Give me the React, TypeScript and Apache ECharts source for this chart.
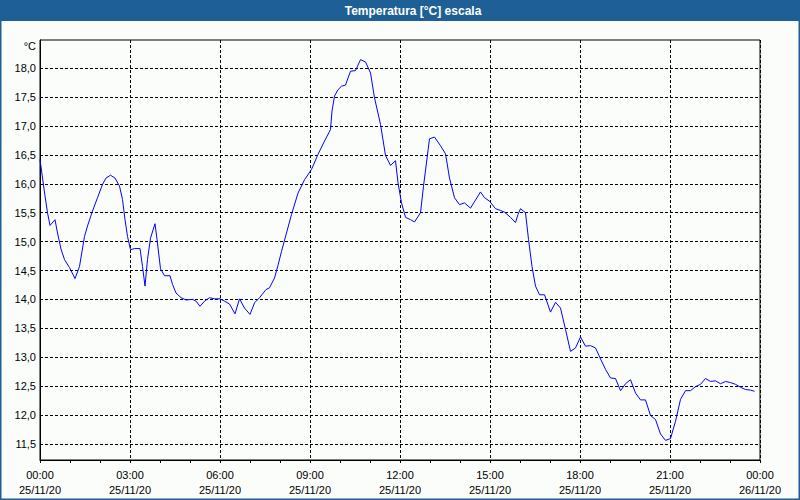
import React, { useEffect, useRef } from "react";
import * as echarts from "echarts";

// minutes since 25/11/20 00:00
const MINUTES = [
  0, 10, 15, 20, 30, 35, 42, 49, 59, 70, 79, 89, 95, 105, 115, 125, 132, 141, 150, 159,
  165, 170, 175, 181, 189, 200, 205, 210, 215, 221, 230, 234, 241, 249, 260, 265, 272, 282, 292, 305,
  312, 320, 329, 339, 349, 360, 369, 379, 390, 399, 409, 420, 429, 439, 452, 459, 469,
  476, 483, 493, 503, 516, 529, 543, 556, 569, 581, 584, 589, 596, 603, 611, 621, 631, 641, 651, 661,
  669, 681, 691, 701, 711, 716, 723, 731, 741, 749, 761, 767, 779, 789, 801, 811, 819, 829, 839, 849,
  861, 871, 881, 889, 899, 911, 921, 929, 941, 951,
  956, 961, 971, 977, 984, 991, 999, 1009, 1021, 1031, 1041, 1051, 1061, 1071, 1081, 1091, 1101, 1111, 1121, 1131,
  1141, 1151, 1161, 1171, 1181, 1191, 1201, 1211, 1221, 1231, 1241, 1251, 1261, 1271, 1281, 1291, 1301, 1311, 1321, 1331,
  1341, 1351, 1361, 1371, 1381, 1391, 1401, 1411, 1421, 1429,
];

const TEMPS = [
  16.42, 15.79, 15.5, 15.28, 15.38, 15.15, 14.87, 14.69, 14.55, 14.36, 14.57, 15.09, 15.27, 15.53, 15.76, 15.99, 16.1, 16.15, 16.1, 15.96,
  15.73, 15.38, 15.09, 14.86, 14.88, 14.88, 14.57, 14.23, 14.69, 15.06, 15.31, 15.04, 14.53, 14.41, 14.41, 14.26, 14.11, 14.03, 13.99, 14.0,
  13.97, 13.88, 13.97, 14.03, 14.01, 14.01, 13.97, 13.92, 13.75, 14.01, 13.85, 13.74, 13.94, 14.03, 14.17, 14.2, 14.37,
  14.59, 14.83, 15.15, 15.47, 15.84, 16.07, 16.25, 16.51, 16.74, 16.94, 17.26, 17.52, 17.63, 17.69, 17.71, 17.95, 17.96, 18.15, 18.11, 17.92,
  17.49, 17.03, 16.49, 16.32, 16.4, 16.02, 15.67, 15.42, 15.38, 15.34, 15.5, 15.96, 16.78, 16.81, 16.66, 16.52, 16.1, 15.76, 15.64, 15.67,
  15.58, 15.72, 15.86, 15.76, 15.7, 15.57, 15.54, 15.51, 15.42, 15.33,
  15.47, 15.57, 15.5, 15.04, 14.57, 14.23, 14.08, 14.08, 13.78, 13.95, 13.85, 13.48, 13.1, 13.16, 13.35, 13.19, 13.2, 13.16, 12.97, 12.79,
  12.64, 12.63, 12.42, 12.54, 12.61, 12.38, 12.26, 12.26, 11.99, 11.92, 11.67, 11.56, 11.59, 11.89, 12.27, 12.42, 12.42, 12.49, 12.53, 12.63,
  12.58, 12.59, 12.54, 12.58, 12.56, 12.53, 12.48, 12.44, 12.43, 12.41,
];

const Y_TICKS = [11.5, 12, 12.5, 13, 13.5, 14, 14.5, 15, 15.5, 16, 16.5, 17, 17.5, 18];
const TITLE = "Temperatura [°C] escala";
const UNIT = "°C";

const FONT = "'Liberation Sans', Arial, sans-serif";
const BLUE_BAR = "#1e5f96";

function pad(n: number) {
  return n < 10 ? "0" + n : "" + n;
}

function xLabel(v: number) {
  const day = 25 + Math.floor(v / 1440);
  const mins = v % 1440;
  const hh = Math.floor(mins / 60);
  const mm = mins % 60;
  return pad(hh) + ":" + pad(mm) + "\n" + day + "/11/20";
}

export default function App() {
  const ref = useRef<HTMLDivElement>(null);
  useEffect(() => {
    document.body.style.margin = "0";
    const chart = echarts.init(ref.current!, null, { renderer: "svg" });
    const data = MINUTES.map((m, i) => [m, TEMPS[i]]);
    chart.setOption({
      animation: false,
      backgroundColor: "#fbfdfb",
      grid: {
        left: 40,
        right: 40,
        top: 40,
        bottom: 40,
        show: true,
        borderColor: "#000",
        borderWidth: 1,
        backgroundColor: "transparent",
      },
      xAxis: {
        type: "value",
        min: 0,
        max: 1440,
        interval: 180,
        axisLine: { show: true, lineStyle: { color: "#000", width: 1 } },
        axisTick: { show: true, length: 3, lineStyle: { color: "#000" } },
        minorTick: { show: true, splitNumber: 3, length: 3, lineStyle: { color: "#000" } },
        splitLine: { show: true, lineStyle: { color: "#000", type: [3, 2], width: 1 } },
        minorSplitLine: { show: false },
        axisLabel: {
          formatter: (v: number) => xLabel(v),
          margin: 7,
          fontFamily: FONT,
          fontSize: 11,
          color: "#000",
          lineHeight: 15,
          showMinLabel: true,
          showMaxLabel: true,
          hideOverlap: false,
        },
      },
      yAxis: {
        type: "value",
        min: 11.22,
        max: 18.49,
        axisLine: { show: true, lineStyle: { color: "#000", width: 1 } },
        axisTick: { show: false, customValues: Y_TICKS },
        splitLine: { show: true, lineStyle: { color: "#000", type: [3, 2], width: 1 } },
        axisLabel: {
          customValues: Y_TICKS,
          formatter: (v: number) => v.toFixed(1).replace(".", ","),
          margin: 4,
          fontFamily: FONT,
          fontSize: 11,
          color: "#000",
        },
      },
      series: [
        {
          type: "line",
          data,
          symbol: "none",
          silent: true,
          z: 3,
          lineStyle: { color: "#0000ff", width: 1 },
        },
      ],
      graphic: [
        {
          type: "rect",
          shape: { x: 0, y: 0, width: 800, height: 21 },
          style: { fill: BLUE_BAR },
          silent: true,
        },
        {
          type: "text",
          x: 413,
          y: 11,
          style: {
            text: TITLE,
            fill: "#fff",
            font: "bold 12px " + FONT,
            textAlign: "center",
            textVerticalAlign: "middle",
          },
          silent: true,
        },
        {
          type: "text",
          x: 36,
          y: 46,
          style: {
            text: UNIT,
            fill: "#000",
            font: "11px " + FONT,
            textAlign: "right",
            textVerticalAlign: "middle",
          },
          silent: true,
        },
        {
          type: "rect",
          shape: { x: 0.5, y: 0.5, width: 799, height: 499 },
          style: { fill: "none", stroke: BLUE_BAR, lineWidth: 2 },
          silent: true,
        },
      ],
    });
    return () => chart.dispose();
  }, []);
  return <div ref={ref} style={{ width: 800, height: 500 }} />;
}
